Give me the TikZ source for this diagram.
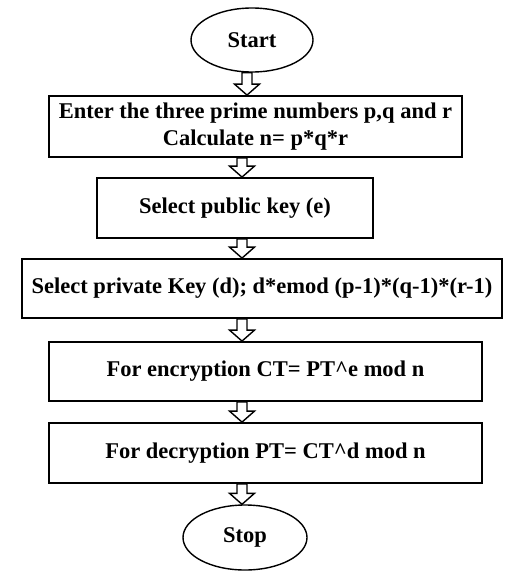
\documentclass[tikz,border=0pt]{standalone}
\usepackage{fontspec}
\setmainfont{Liberation Serif}
\usetikzlibrary{shapes.geometric,calc}
\tikzset{
  procbox/.style={draw=black, line width=1.8pt, rectangle, inner sep=0pt, align=center, font=\fontsize{22.5}{27}\selectfont\bfseries},
  term/.style={draw=black, line width=1.4pt, ellipse, inner sep=0pt, font=\fontsize{22.5}{27}\selectfont\bfseries},
  barrow/.style={draw=black, fill=white, line width=1.4pt, line join=miter}
}
\newcommand{\blockarr}[3]{%
  \draw[barrow] let \p1=(#2.south), \p2=(#3.north) in
    ({#1-5pt},\y1) -- ({#1-5pt},{\y2+11pt}) -- ({#1-12.5pt},{\y2+11pt}) -- ({#1},\y2)
    -- ({#1+12.5pt},{\y2+11pt}) -- ({#1+5pt},{\y2+11pt}) -- ({#1+5pt},\y1) -- cycle;}
\begin{document}
\begin{tikzpicture}[x=1pt,y=-1pt]
\useasboundingbox[fill=white] (0,0) rectangle (517,576);
\node[term, minimum width=122pt, minimum height=64pt] (start) at (252,40) {Start};
\node[procbox, minimum width=413pt, minimum height=61pt] (b1) at (255.5,126.5) {Enter the three prime numbers p,q and r\\Calculate n= p*q*r};
\node[procbox, minimum width=276pt, minimum height=60pt] (b2) at (235,208) {Select public key (e)};
\node[procbox, minimum width=480pt, minimum height=59pt] (b3) at (262,288.5) {Select private Key (d); d*emod (p-1)*(q-1)*(r-1)};
\node[procbox, minimum width=433pt, minimum height=59pt] (b4) at (265.5,371.5) {For encryption CT= PT\textasciicircum e mod n};
\node[procbox, minimum width=433pt, minimum height=60pt] (b5) at (265.5,453) {For decryption PT= CT\textasciicircum d mod n};
\node[term, minimum width=124pt, minimum height=65pt] (stop) at (245,537.5) {Stop};
\blockarr{247pt}{start}{b1}
\blockarr{242pt}{b1}{b2}
\blockarr{242pt}{b2}{b3}
\blockarr{242pt}{b3}{b4}
\blockarr{242pt}{b4}{b5}
\blockarr{242pt}{b5}{stop}
\end{tikzpicture}
\end{document}
